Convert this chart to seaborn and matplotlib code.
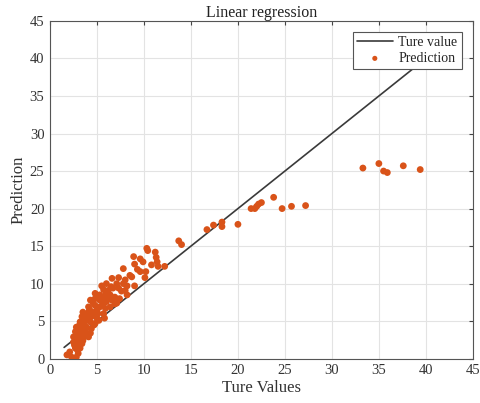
import matplotlib
matplotlib.use("Agg")
import matplotlib.pyplot as plt
import seaborn as sns
import pandas as pd

# Data
true_vals = [
    33.3, 35.0, 35.5, 35.9, 37.6, 39.4,
    16.7, 17.4, 18.3, 18.3, 20.0, 21.4, 21.8, 22.0, 22.2, 22.5, 23.8, 24.7, 25.7, 27.2,
    13.7, 14.0, 10.3, 10.4, 11.2, 11.3, 11.4, 8.9, 9.6, 9.9, 9.0, 10.8, 11.5, 12.2,
    7.8, 9.3, 9.6, 10.2, 8.5, 8.7, 10.1, 6.6, 7.3, 8.0, 6.0, 7.1, 7.8, 8.2, 9.0,
    5.5, 5.7, 6.2, 6.7, 7.3, 8.0, 8.2, 4.8, 5.3, 5.9, 6.4, 6.9, 7.4,
    4.3, 4.8, 5.3, 6.0, 6.6, 6.9, 4.1, 4.8, 5.3, 5.9, 6.4, 7.1,
    3.5, 4.1, 4.6, 5.1, 5.7, 3.4, 3.9, 4.4, 5.0, 3.2, 3.7, 4.3, 4.8,
    2.8, 3.4, 3.9, 4.4, 2.7, 3.2, 3.7, 4.3, 2.5, 3.0, 3.5, 4.1,
    2.5, 3.0, 3.4, 2.7, 3.2, 2.1, 3.0, 1.8, 2.3, 2.8,
    3.0, 3.6, 4.0, 4.5, 4.2, 4.6, 5.5, 2.9, 3.3, 3.8, 2.6, 3.6, 5.0, 5.6,
    6.2, 6.5, 7.6, 3.1, 2.9, 3.5, 4.0, 4.7, 5.2, 5.8,
]
pred_vals = [
    25.4, 26.0, 25.0, 24.8, 25.7, 25.2,
    17.2, 17.8, 18.2, 17.6, 17.9, 20.0, 20.0, 20.3, 20.6, 20.8, 21.5, 20.0, 20.3, 20.4,
    15.7, 15.2, 14.7, 14.4, 14.2, 13.5, 12.9, 13.6, 13.3, 12.9, 12.6, 12.5, 12.3, 12.3,
    12.0, 11.9, 11.6, 11.6, 11.1, 10.9, 10.8, 10.7, 10.8, 10.5, 10.0, 10.0, 10.0, 9.7, 9.7,
    9.7, 9.2, 9.1, 9.4, 9.4, 9.1, 8.5, 8.7, 8.5, 8.5, 8.5, 8.2, 8.0,
    7.8, 8.0, 7.8, 7.6, 7.8, 7.3, 6.9, 7.1, 6.9, 6.7, 6.9, 7.4,
    6.2, 6.2, 6.2, 6.0, 6.0, 5.6, 5.6, 5.6, 5.4, 4.9, 4.9, 4.9, 4.7,
    4.2, 4.2, 4.2, 4.0, 3.6, 3.6, 3.4, 3.4, 2.9, 2.9, 2.7, 2.9,
    2.2, 2.0, 2.0, 1.4, 1.4, 0.9, 0.7, 0.5, 0.2, 0.2,
    3.5, 4.5, 5.2, 5.8, 6.6, 7.4, 8.0, 2.4, 3.0, 3.9, 1.8, 5.9, 6.5, 7.3,
    8.0, 9.6, 9.0, 4.4, 1.2, 2.4, 3.0, 4.5, 5.1, 5.4,
]
line_x = [1.5, 41.0]
line_y = [1.5, 41.0]
ticks = [0, 5, 10, 15, 20, 25, 30, 35, 40, 45]

sns.set_style("white")
plt.rcParams["font.family"] = ["Liberation Serif", "DejaVu Serif"]

fig = plt.figure(figsize=(4.81, 4.03), dpi=100)
ax = fig.add_axes([0.104, 0.110, 0.879, 0.838])

df_pts = pd.DataFrame({"t": true_vals, "p": pred_vals})
df_line = pd.DataFrame({"x": line_x, "y": line_y})

sns.lineplot(data=df_line, x="x", y="y", ax=ax, color="#3a3a3a", lw=1.2,
             label="Ture value", zorder=2)
sns.scatterplot(data=df_pts, x="t", y="p", ax=ax, color="#D95319", s=24,
                edgecolor="none", label="Prediction", zorder=3)

ax.set_xlim(0, 45)
ax.set_ylim(0, 45)
ax.set_xticks(ticks)
ax.set_yticks(ticks)
ax.grid(True, color="#e3e3e3", lw=0.8)
ax.set_axisbelow(True)
ax.tick_params(direction="in", top=True, right=True, length=3, labelsize=10.5,
               color="#444444", labelcolor="#333333", pad=4)
for s in ax.spines.values():
    s.set_color("#555555")
    s.set_linewidth(0.8)

ax.set_title("Linear regression", fontsize=11.5, color="#222222", pad=3)
ax.set_xlabel("Ture Values", fontsize=12, color="#333333", labelpad=2)
ax.set_ylabel("Prediction", fontsize=12, color="#333333", labelpad=2)

leg = ax.legend(loc="upper right", fontsize=10, frameon=True, fancybox=False,
                borderaxespad=0.8, handlelength=2.6, handletextpad=0.4,
                borderpad=0.3, labelspacing=0.2, markerscale=0.75)
leg.get_frame().set_edgecolor("#555555")
leg.get_frame().set_linewidth(0.8)
leg.get_frame().set_alpha(1.0)

fig.savefig("out.png", dpi=100, facecolor="white")
